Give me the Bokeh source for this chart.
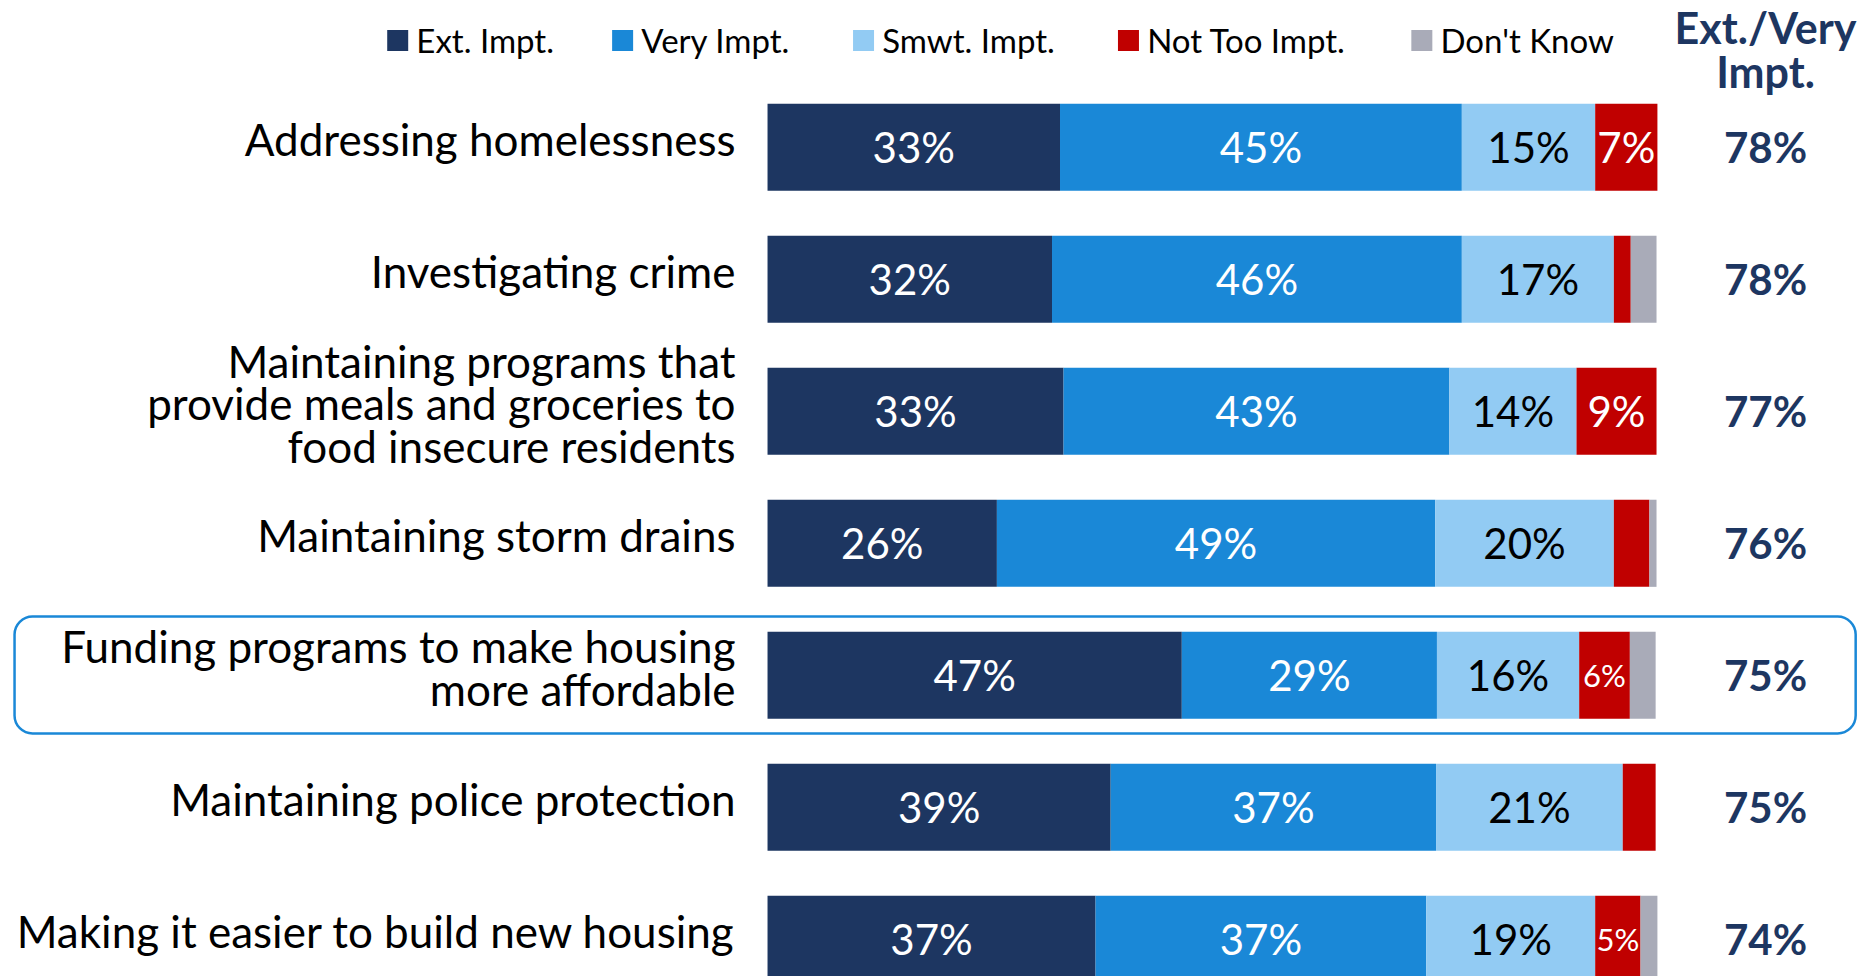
from bokeh.plotting import figure
from bokeh.models import Range1d, ColumnDataSource, BoxAnnotation
from bokeh.embed import file_html
from bokeh.resources import INLINE
from bokeh.core.properties import value

# ---------------- data ----------------
categories = [
    "Addressing homelessness",
    "Investigating crime",
    "Maintaining programs that\nprovide meals and groceries to\nfood insecure residents",
    "Maintaining storm drains",
    "Funding programs to make housing\nmore affordable",
    "Maintaining police protection",
    "Making it easier to build new housing",
]
ext_impt = [32.9, 32.0, 33.3, 25.8, 46.6, 38.6, 36.9]
very_impt = [45.2, 46.1, 43.4, 49.3, 28.7, 36.6, 37.2]
smwt_impt = [15.0, 17.1, 14.3, 20.1, 16.0, 21.0, 19.0]
not_too_impt = [7.0, 1.9, 9.0, 4.0, 5.7, 3.7, 5.1]
dont_know = [0.0, 2.9, 0.0, 0.8, 2.9, 0.0, 1.9]
ext_very_total = [78, 78, 77, 76, 75, 75, 74]
series_names = ["Ext. Impt.", "Very Impt.", "Smwt. Impt.", "Not Too Impt.", "Don't Know"]
highlighted_row = 4

# ---------------- style ----------------
colors = ["#1d3661", "#1a88d7", "#92cbf3", "#c00000", "#a9abb8"]
label_colors = ["white", "white", "black", "white", "black"]
navy = "#1d3661"
FONT = value("Lato")

W, H = 1860, 976
x_start, x_end = -86.28, -86.28 + W / 8.89
y_top = -1.112
y_bottom = y_top + H / 132.0

p = figure(width=W, height=H, output_backend="svg", toolbar_location=None,
           x_range=Range1d(x_start, x_end), y_range=Range1d(y_bottom, y_top),
           min_border=0, outline_line_color=None,
           x_axis_location=None, y_axis_location=None)
p.xgrid.visible = False
p.ygrid.visible = False
p.background_fill_color = "white"
p.border_fill_color = "white"

series = [ext_impt, very_impt, smwt_impt, not_too_impt, dont_know]
keys = ["s0", "s1", "s2", "s3", "s4"]
ys = list(range(len(categories)))
data = {"y": ys}
for k, s in zip(keys, series):
    data[k] = s
src = ColumnDataSource(data)
p.hbar_stack(keys, y="y", height=0.66, color=colors, source=src, line_color=None)

# segment labels
lx, ly, lt, lc, ls = [], [], [], [], []
for i in ys:
    left = 0.0
    for j, s in enumerate(series):
        v = s[i]
        r = round(v)
        if r >= 5:
            lx.append(left + v / 2)
            ly.append(i)
            lt.append(f"{r}%")
            lc.append(label_colors[j])
            ls.append("42px" if r >= 7 else "31px")
        left += v
p.text(x=lx, y=ly, text=lt, text_color=lc, text_font_size=ls, text_font=FONT,
       text_align="center", text_baseline="middle")

# category labels
p.text(x=[-3.6] * len(ys), y=[y - 0.06 for y in ys], text=categories, text_font=FONT,
       text_font_size="44px", text_color="black", text_align="right",
       text_baseline="middle", text_line_height=0.82)

# totals
p.text(x=[112.26] * len(ys), y=ys, text=[f"{t}%" for t in ext_very_total],
       text_font=FONT, text_font_size="42px", text_font_style="bold",
       text_color=navy, text_align="center", text_baseline="middle")

# header
p.text(x=[112.26, 112.26], y=[-0.91, -0.575], text=["Ext./Very", "Impt."],
       text_font=FONT, text_font_size="43px", text_font_style="bold",
       text_color=navy, text_align="center", text_baseline="middle")

# legend
leg_x = [-41.6, -16.3, 10.8, 40.6, 73.6]
leg_y = -0.809
p.scatter(x=leg_x, y=[leg_y] * 5, marker="square", size=21, color=colors, line_color=None)
p.text(x=[v + 2.1 for v in leg_x], y=[leg_y] * 5, text=series_names, text_font=FONT,
       text_font_size="33px", text_color="black", text_align="left", text_baseline="middle")

# highlight box
box = BoxAnnotation(left=-84.7, right=122.4,
                    top=highlighted_row - 0.445, bottom=highlighted_row + 0.441,
                    fill_alpha=0, line_color="#1a88d7", line_alpha=1.0, line_width=2.5,
                    border_radius=18)
p.add_layout(box)

open("out.html", "w").write(file_html(p, INLINE))
